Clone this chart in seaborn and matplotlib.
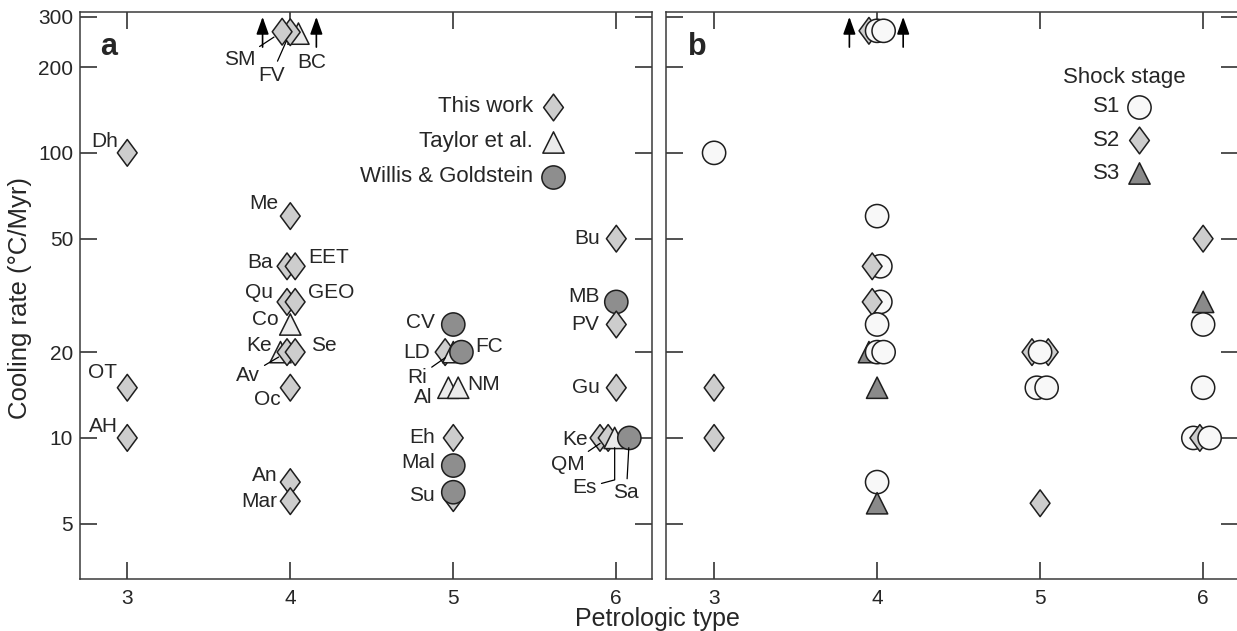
import numpy as np
import pandas as pd
import matplotlib
matplotlib.use("Agg")
import matplotlib.pyplot as plt
from matplotlib.path import Path
import matplotlib.ticker as mticker
import seaborn as sns

# ---------------- data : panel a (source of the cooling rate) ----------------
a_label = ["BC", "FV", "SM", "Dh", "OT", "AH", "Me", "Ba", "EET", "Qu", "GEO", "Co",
           "Ke", "Av", "Se", "Oc", "An", "Mar", "CV", "LD", "Ri", "FC", "Al", "NM",
           "Eh", "Mal", "", "Su", "Bu", "MB", "PV", "Gu", "Ke", "QM", "Es", "Sa"]
a_type = [4.05, 4.00, 3.95, 3, 3, 3, 4, 3.98, 4.03, 3.98, 4.03, 4.0,
          3.94, 3.98, 4.03, 4, 4, 4, 5.0, 4.95, 5.0, 5.05, 4.97, 5.03,
          5, 5, 5, 5, 6, 6, 6, 6, 5.90, 5.95, 5.99, 6.08]
a_rate = [262, 265, 266, 100, 15, 10, 60, 40, 40, 30, 30, 25,
          20, 20, 20, 15, 7, 6, 25, 20, 20, 20, 15, 15,
          10, 8, 6.15, 6.45, 50, 30, 25, 15, 10, 10, 10, 10]
a_src = ["TA", "TW", "TW", "TW", "TW", "TW", "TW", "TW", "TW", "TW", "TW", "TA",
         "TA", "TW", "TW", "TW", "TW", "TW", "WG", "TW", "TA", "WG", "TA", "TA",
         "TW", "WG", "TW", "WG", "TW", "WG", "TW", "TW", "TW", "TW", "TA", "WG"]
source_names = {"TW": "This work", "TA": "Taylor et al.", "WG": "Willis & Goldstein"}

# ---------------- data : panel b (shock stage) ----------------
b_type = [3.95, 4.0, 4.04, 3, 3, 3, 4, 4.02, 3.97, 4.02, 3.97, 4.0,
          3.95, 4.0, 4.04, 4, 4, 4, 5.05, 4.95, 5.0, 4.98, 5.04, 5.0,
          6, 6, 6, 6, 5.94, 5.98, 6.04]
b_rate = [268, 268, 268, 100, 15, 10, 60, 40, 40, 30, 30, 25,
          20, 20, 20, 15, 7, 5.9, 20, 20, 20, 15, 15, 5.9,
          50, 30, 25, 15, 10, 10, 10]
b_stage = ["S2", "S1", "S1", "S1", "S2", "S2", "S1", "S1", "S2", "S1", "S2", "S1",
           "S3", "S1", "S1", "S3", "S1", "S3", "S2", "S2", "S1", "S1", "S1", "S2",
           "S2", "S3", "S1", "S1", "S1", "S2", "S1"]

# lower-limit arrows (petrologic type, from rate, to rate)
arrow_type = [3.83, 4.16]
arrow_from = 235
arrow_to = 300

y_ticks = [5, 10, 20, 50, 100, 200, 300]
x_ticks = [3, 4, 5, 6]

# ---------------- label layout (pixel offsets from the marker) ----------------
# (dx, dy, ha, leader-line)
a_lab_layout = [
    (13, -29, "center", False), (-19, -43, "center", True), (-27, -28, "right", True),
    (-9, 11, "right", False), (-10, 15, "right", False), (-9, 11, "right", False),
    (-12, 13, "right", False), (-14, 4, "right", False), (13, 9, "left", False),
    (-14, 9, "right", False), (13, 9, "left", False), (-12, 5, "right", False),
    (-9, 7, "right", False), (-27, -23, "right", True), (16, 7, "left", False),
    (-10, -12, "right", False), (-13, 7, "right", False), (-13, 0, "right", False),
    (-18, 2, "right", False), (-15, 0, "right", False), (-26, -25, "right", True),
    (14, 6, "left", False), (-16, -10, "right", False), (9, 3, "left", False),
    (-18, 0, "right", False), (-18, 3, "right", False), (0, 0, "right", False),
    (-18, -3, "right", False), (-16, 0, "right", False), (-17, 5, "right", False),
    (-17, 0, "right", False), (-16, 0, "right", False), (-12, -2, "right", False),
    (-23, -27, "right", True), (-30, -50, "center", "elbow"), (-3, -55, "center", True),
]

# ---------------- styling ----------------
sns.set_style("ticks")
plt.rcParams["font.family"] = ["Liberation Sans", "DejaVu Sans"]
plt.rcParams["axes.linewidth"] = 1.1
plt.rcParams["axes.edgecolor"] = "#3a3a3a"

EDGE = "#1e1e1e"
diamond = Path([(0, 1), (0.74, 0), (0, -1), (-0.74, 0), (0, 1)],
               [Path.MOVETO, Path.LINETO, Path.LINETO, Path.LINETO, Path.CLOSEPOLY])

pal_a = {"This work": "#cdcdcd", "Taylor et al.": "#ebebeb", "Willis & Goldstein": "#8e8e8e"}
mk_a = {"This work": diamond, "Taylor et al.": "^", "Willis & Goldstein": "o"}
sz_a = {"This work": 370, "Taylor et al.": 235, "Willis & Goldstein": 280}

pal_b = {"S1": "#f8f8f8", "S2": "#cdcdcd", "S3": "#8a8a8a"}
mk_b = {"S1": "o", "S2": diamond, "S3": "^"}
sz_b = {"S1": 280, "S2": 370, "S3": 235}

W, H = 1237, 631
fig = plt.figure(figsize=(W / 100, H / 100), dpi=100)
ax_a = fig.add_axes([80 / W, 1 - 579 / H, 572 / W, 567 / H])
ax_b = fig.add_axes([666 / W, 1 - 579 / H, 572 / W, 567 / H])

dfa = pd.DataFrame({"type": a_type, "rate": a_rate,
                    "source": [source_names[s] for s in a_src], "label": a_label})
dfb = pd.DataFrame({"type": b_type, "rate": b_rate, "stage": b_stage})

sns.scatterplot(data=dfa, x="type", y="rate", hue="source", style="source", size="source",
                palette=pal_a, markers=mk_a, sizes=sz_a, edgecolor=EDGE, linewidth=1.1,
                legend=False, ax=ax_a, zorder=3)
sns.scatterplot(data=dfb, x="type", y="rate", hue="stage", style="stage", size="stage",
                palette=pal_b, markers=mk_b, sizes=sz_b, edgecolor=EDGE, linewidth=1.1,
                legend=False, ax=ax_b, zorder=3)

PX = 0.72  # px -> pt at 100 dpi
for ax in (ax_a, ax_b):
    ax.set_yscale("log")
    ax.set_xlim(2.71, 6.219)
    ax.set_ylim(3.2, 312)
    ax.yaxis.set_major_locator(mticker.FixedLocator(y_ticks))
    ax.yaxis.set_minor_locator(mticker.NullLocator())
    ax.xaxis.set_major_locator(mticker.FixedLocator(x_ticks))
    ax.tick_params(direction="in", length=12, width=1.1, top=True, right=True,
                   labelsize=15, color="#222222")
    ax.tick_params(axis="x", pad=7)
    ax.tick_params(axis="y", pad=5)
    ax.set_xlabel("")
    ax.set_ylabel("")
    for xa in arrow_type:
        ax.annotate("", xy=(xa, arrow_to), xytext=(xa, arrow_from),
                    arrowprops=dict(arrowstyle="-|>,head_length=0.7,head_width=0.25",
                                    color="black", lw=1.2, mutation_scale=15,
                                    shrinkA=0, shrinkB=0))

ax_b.set_xlim(2.705, 6.214)
ax_a.yaxis.set_major_formatter(mticker.FuncFormatter(lambda v, _: f"{v:g}"))
ax_b.yaxis.set_major_formatter(mticker.NullFormatter())
ax_a.xaxis.set_major_formatter(mticker.FuncFormatter(lambda v, _: f"{v:g}"))
ax_b.xaxis.set_major_formatter(mticker.FuncFormatter(lambda v, _: f"{v:g}"))

# point labels panel a
for (x, y, lab), (dx, dy, ha, lead) in zip(zip(a_type, a_rate, a_label), a_lab_layout):
    if not lab:
        continue
    kw = {}
    if lead:
        cs = "angle,angleA=15,angleB=90,rad=0" if lead == "elbow" else "arc3"
        kw["arrowprops"] = dict(arrowstyle="-", color="black", lw=0.9,
                                shrinkA=1, shrinkB=7, connectionstyle=cs)
    ax_a.annotate(lab, xy=(x, y), xytext=(dx * PX, dy * PX), textcoords="offset points",
                  ha=ha, va="center", fontsize=15, zorder=5, **kw)

# legends
leg_y = [0.8325, 0.771, 0.709]
for yf, (name, col) in zip(leg_y, pal_a.items()):
    ax_a.scatter([0.827], [yf], transform=ax_a.transAxes, marker=mk_a[name], s=sz_a[name],
                 c=col, edgecolors=EDGE, linewidths=1.1, zorder=4, clip_on=False)
    ax_a.text(0.792, yf, name, transform=ax_a.transAxes, ha="right", va="center", fontsize=16)

leg_yb = [0.8325, 0.774, 0.716]
ax_b.text(0.802, 0.884, "Shock stage", transform=ax_b.transAxes, ha="center", va="center",
          fontsize=16)
for yf, (name, col) in zip(leg_yb, pal_b.items()):
    ax_b.scatter([0.827], [yf], transform=ax_b.transAxes, marker=mk_b[name], s=sz_b[name],
                 c=col, edgecolors=EDGE, linewidths=1.1, zorder=4, clip_on=False)
    ax_b.text(0.794, yf, name, transform=ax_b.transAxes, ha="right", va="center", fontsize=16)

ax_a.text(0.035, 0.924, "a", transform=ax_a.transAxes, fontsize=22, fontweight="bold",
          va="baseline", ha="left")
ax_b.text(0.038, 0.924, "b", transform=ax_b.transAxes, fontsize=22, fontweight="bold",
          va="baseline", ha="left")

fig.text(657 / W, 1 - 619 / H, "Petrologic type", ha="center", va="center", fontsize=18)
fig.text(20 / W, 1 - 298 / H, "Cooling rate (°C/Myr)", ha="center", va="center",
         rotation=90, fontsize=18.5)

fig.savefig("out.png", dpi=100)
